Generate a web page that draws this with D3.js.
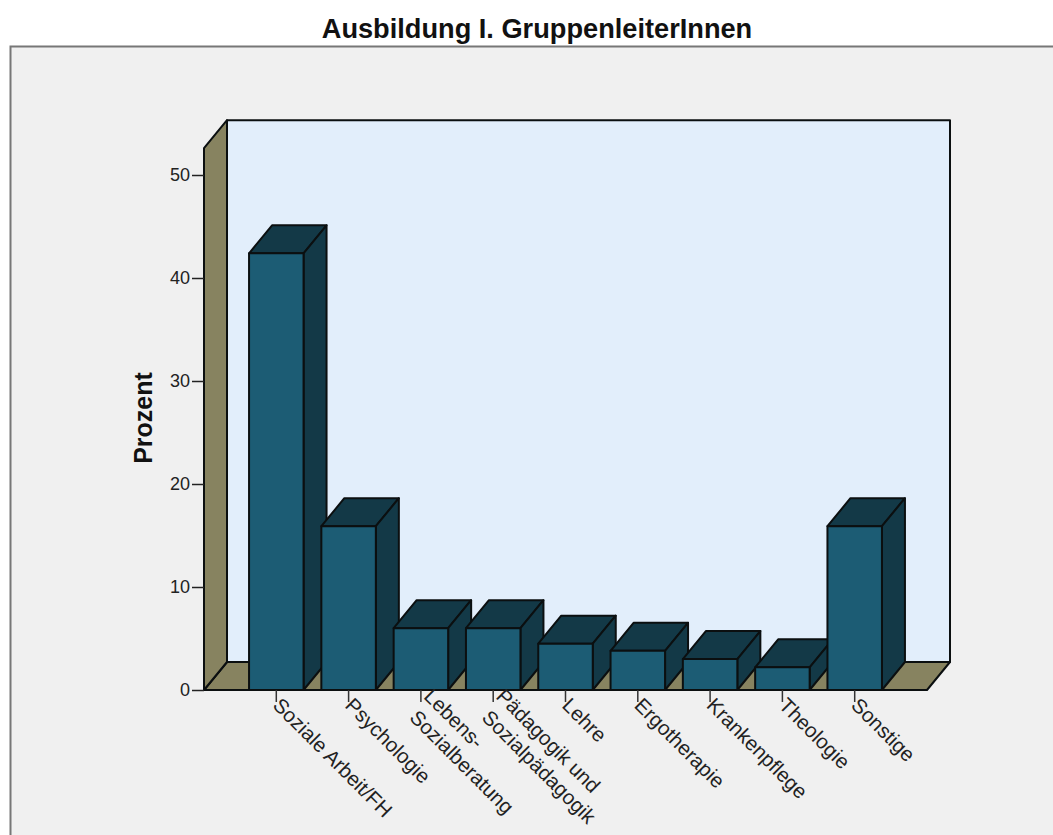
<!DOCTYPE html>
<html><head><meta charset="utf-8">
<script src="https://cdnjs.cloudflare.com/ajax/libs/d3/7.8.5/d3.min.js"></script>
<style>html,body{margin:0;padding:0;background:#fff;overflow:hidden}svg{display:block}text{font-family:"Liberation Sans",Arial,sans-serif}</style>
</head><body><svg id="c" width="1053" height="835"></svg>
<script>
const titleText = "Ausbildung I. GruppenleiterInnen";
const yTitle = "Prozent";
const categories = ["Soziale Arbeit/FH","Psychologie","Lebens-|Sozialberatung","Pädagogik und|Sozialpädagogik","Lehre","Ergotherapie","Krankenpflege","Theologie","Sonstige"];
const values = [42.4,15.9,6.0,6.0,4.5,3.8,3.0,2.2,15.9];
const yTicks = [0,10,20,30,40,50];
const colors = {bg:"#f0f0f0",wall:"#e2eefb",side:"#878360",front:"#1c5c74",dark:"#133947",line:"#0b0f10",text:"#222"};

const svg = d3.select("#c");
const x = d3.scalePoint().domain(categories).range([204,927]).padding(1);
const y = d3.scaleLinear().domain([0,50]).range([690,175]);
const dx = 23, dy = -28, barW = 54.5;
const topV = 52.6; // value reached by the front edge of the walls
const line = d3.line();

svg.append("rect").attr("x",10).attr("y",46).attr("width",1043).attr("height",789).attr("fill",colors.bg);
svg.append("path").attr("d","M10.5,835V46.5H1053").attr("fill","none").attr("stroke","#777").attr("stroke-width",2);
svg.append("text").attr("x",537).attr("y",38).attr("text-anchor","middle").attr("font-size",27.2).attr("font-weight","bold").attr("fill","#111").text(titleText);

const x0 = x.range()[0], x1 = x.range()[1], yB = y(0), yT = y(topV);
const poly = (pts,fill)=>svg.append("path").attr("d",line(pts)+"Z").attr("fill",fill).attr("stroke",colors.line).attr("stroke-width",2).attr("stroke-linejoin","round");

poly([[x0+dx,yT+dy],[x1+dx,yT+dy],[x1+dx,yB+dy],[x0+dx,yB+dy]],colors.wall);
poly([[x0,yB],[x0+dx,yB+dy],[x1+dx,yB+dy],[x1,yB]],colors.side);
poly([[x0,yT],[x0+dx,yT+dy],[x0+dx,yB+dy],[x0,yB]],colors.side);

categories.forEach((c,i)=>{
  const l = x(c)-barW/2, r = x(c)+barW/2, t = y(values[i]);
  poly([[l,t],[l+dx,t+dy],[r+dx,t+dy],[r,t]],colors.dark);
  poly([[r,t],[r+dx,t+dy],[r+dx,yB+dy],[r,yB]],colors.dark);
  poly([[l,t],[r,t],[r,yB],[l,yB]],colors.front);
});
svg.append("line").attr("x1",x0).attr("x2",x1).attr("y1",yB).attr("y2",yB).attr("stroke",colors.line).attr("stroke-width",2);

const yAxis = svg.append("g").attr("transform",`translate(${x0},0)`).call(d3.axisLeft(y).tickValues(yTicks).tickSize(12).tickPadding(2));
yAxis.select(".domain").remove();
yAxis.selectAll("line").attr("stroke","#222").attr("stroke-width",1.5);
yAxis.selectAll("text").attr("font-size",18).attr("fill",colors.text).style("font-family",'"Liberation Sans",Arial,sans-serif');

svg.append("text").attr("transform","translate(152,418) rotate(-90)").attr("text-anchor","middle").attr("font-size",25).attr("font-weight","bold").attr("fill","#111").text(yTitle);

const xg = svg.append("g");
categories.forEach(c=>{
  const cx = x(c);
  xg.append("line").attr("x1",cx).attr("x2",cx).attr("y1",yB).attr("y2",yB+12).attr("stroke","#333").attr("stroke-width",1.5);
  const parts = c.split("|");
  const t = xg.append("text").attr("transform",`translate(${cx+6},${yB+6}) rotate(45)`).attr("font-size",20.5).attr("fill",colors.text);
  parts.forEach((p,j)=>{
    const two = parts.length>1;
    t.append("tspan").attr("x",two?(j==0?-2:3):0).attr("y",two?(j==0?4:29):15).text(p);
  });
});
</script></body></html>
